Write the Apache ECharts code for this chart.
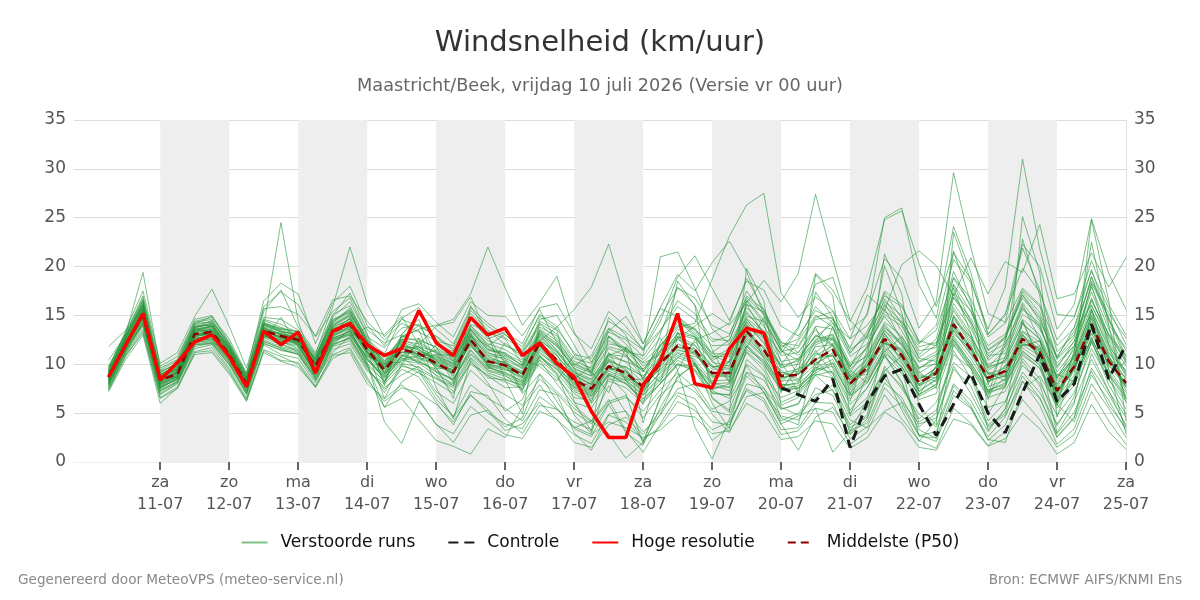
<!DOCTYPE html>
<html lang="nl">
<head>
<meta charset="UTF-8">
<script src="https://cdn.jsdelivr.net/npm/echarts@6/dist/echarts.min.js"></script>
<title>Windsnelheid</title>
<style>html,body{margin:0;padding:0;background:#fff;}</style>
</head>
<body>
<div id="main" style="width:1200px;height:600px"></div>
<script type="text/javascript">
// uren sinds 10-07 00:00, stap 6 uur
var startHour = 6;
var stepHours = 6;

// tick labels
var dayNames = ['za', 'zo', 'ma', 'di', 'wo', 'do', 'vr', 'za', 'zo', 'ma', 'di', 'wo', 'do', 'vr', 'za'];
var dayDates = ['11-07', '12-07', '13-07', '14-07', '15-07', '16-07', '17-07', '18-07', '19-07', '20-07', '21-07', '22-07', '23-07', '24-07', '25-07'];
var dayTicks = [24, 48, 72, 96, 120, 144, 168, 192, 216, 240, 264, 288, 312, 336, 360];
var shadedDays = [[24, 48], [72, 96], [120, 144], [168, 192], [216, 240], [264, 288], [312, 336]];

// Middelste (P50)
var median = [8.7, 12, 15, 8.4, 9.0, 13.1, 13.3, 11, 8.0, 13.4, 12.9, 12.5,
    9.8, 13.3, 14.1, 11.5, 9.4, 11.5, 11.1, 10.1, 9.2, 12.5, 10.3, 9.9,
    8.9, 12.2, 10.4, 8.4, 7.5, 9.8, 9.1, 7.7, 10.1, 11.9, 11.5, 9.1,
    9.1, 13.4, 11.5, 8.8, 8.9, 10.5, 11.5, 8.0, 9.7, 12.6, 10.9, 8.1,
    9.1, 14.1, 11.5, 8.6, 9.3, 12.6, 11.2, 7.3, 9.8, 14.1, 10.3, 8.1];

// Hoge resolutie (tot 20-07 00 uur)
var hires = [8.7, 12.0, 15.2, 8.4, 10.2, 12.3, 13.0, 10.8, 7.7, 13.4, 12.0, 13.3,
    9.1, 13.4, 14.2, 12.0, 10.9, 11.6, 15.5, 12.2, 10.9, 14.8, 13.0, 13.7,
    10.9, 12.2, 10.1, 8.7, 5.2, 2.5, 2.5, 7.9, 10.3, 15.2, 8.0, 7.6,
    11.6, 13.7, 13.2, 7.6];

// Controle (vanaf 20-07 00 uur)
var controlStart = 39;
var control = [7.6, 6.9, 6.2, 8.5, 1.5, 6.1, 8.8, 9.5, 5.9, 2.7, 5.9, 9.1,
    5.0, 3.0, 7.1, 11.0, 6.2, 8.0, 14.1, 8.5, 12.0];

// Verstoorde runs
var runs = [
    [9.2,12.8,16.5,9.0,9.8,13.8,14.2,11.6,8.4,14.5,13.8,13.0, 10.5,14.2,15.8,12.4,8.1,12.9,13.5,9.2,7.8,14.0,11.9,10.6, 7.2,13.5,12.1,9.6,6.1,11.2,8.4,5.9,12.3,14.6,12.8,8.0, 10.4,16.2,13.0,7.1,10.2,13.8,9.6,6.2,11.5,15.7,12.4,9.3, 7.5,17.8,13.2,6.4,10.8,16.1,12.5,5.8,11.4,18.2,12.0,6.5],
    [8.1,11.2,14.3,7.6,8.5,12.4,12.6,10.4,7.5,12.6,14.8,11.8, 9.1,12.5,13.0,10.8,10.1,10.2,12.4,11.8,8.6,11.1,9.5,12.2, 10.6,9.8,8.3,10.9,9.2,7.1,11.8,9.4,8.2,13.3,9.9,7.4, 8.0,11.7,14.8,10.3,7.1,9.2,13.9,9.4,8.1,11.3,12.8,10.2, 11.0,12.5,9.8,7.2,7.6,14.5,10.1,9.0,8.2,12.8,8.8,10.3],
    [9.8,13.1,19.4,9.6,10.5,14.6,15.0,12.3,8.9,15.4,17.6,13.8, 11.2,15.0,17.3,13.5,12.2,13.0,15.2,13.6,12.1,15.8,14.2,13.0, 11.8,14.9,13.6,11.2,9.4,13.3,12.5,10.8,13.4,16.5,15.2,12.6, 12.4,17.0,15.6,12.2,11.9,14.8,15.4,11.5,12.8,17.3,14.7,11.0, 12.6,19.5,15.8,11.9,13.1,17.6,15.9,10.7,13.8,19.7,14.5,11.4],
    [7.8,11.5,14.0,7.2,8.2,12.0,12.1,10.0,7.0,12.2,11.4,11.1, 8.5,11.8,12.4,9.5,7.6,8.9,9.8,7.2,6.0,9.4,7.8,6.9, 5.8,8.5,7.0,5.1,3.9,6.2,6.8,4.5,6.9,8.3,7.2,5.2, 4.8,9.1,7.6,4.2,5.0,6.9,7.4,3.8,5.5,8.6,6.2,3.9, 4.5,9.8,7.0,3.6,4.8,8.2,6.5,2.9,5.1,9.3,5.8,3.5],
    [10.4,13.0,16.0,8.9,9.4,13.5,13.9,10.8,8.3,13.0,12.2,12.9, 10.2,13.8,14.6,11.0,8.8,12.1,10.5,10.9,10.0,12.0,9.7,9.1, 8.3,11.5,9.8,7.6,8.1,10.5,8.4,8.5,9.4,11.2,10.8,9.8, 9.6,12.5,10.8,9.4,8.2,11.1,10.8,8.6,9.0,13.2,10.2,7.5, 9.8,13.4,11.0,9.2,8.7,13.1,10.6,7.9,10.4,13.6,9.8,8.7],
    [8.4,12.3,15.5,8.0,9.1,12.9,13.1,11.2,7.8,13.9,24.5,14.4, 9.3,13.9,15.1,12.6,9.0,10.8,11.9,10.4,8.8,12.9,11.1,10.8, 9.5,12.8,11.0,7.7,7.0,10.4,9.6,6.9,10.9,12.5,11.9,9.9, 8.3,13.9,12.3,8.2,9.6,10.1,11.0,7.4,10.3,12.1,11.6,8.8, 8.6,14.8,12.0,8.1,9.9,12.0,11.8,6.8,10.3,15.0,10.9,7.6],
    [9.0,12.5,15.8,8.7,8.6,13.7,14.5,11.9,8.6,14.1,13.5,12.1, 9.9,13.0,13.8,10.9,9.9,11.9,11.6,9.6,9.5,13.2,9.8,9.4, 9.1,12.0,10.9,8.8,7.9,9.4,9.8,8.1,10.5,11.5,11.0,9.5, 9.5,12.9,11.1,9.2,8.5,10.9,11.9,8.4,9.3,12.2,11.4,8.5, 9.6,13.6,11.9,8.2,9.8,12.1,11.6,7.6,9.4,13.5,10.8,8.5],
    [8.9,12.1,15.1,8.1,9.3,13.3,13.6,11.4,8.2,13.8,12.6,12.8, 10.3,14.8,16.4,13.0,7.8,13.1,14.6,9.7,6.5,16.0,13.0,8.4, 4.9,14.4,13.5,6.2,3.1,12.9,11.6,4.0,9.8,18.5,16.0,6.5, 5.1,19.8,16.5,5.8,6.6,19.2,17.0,4.8,8.9,21.3,17.2,5.6, 3.8,23.5,18.6,4.9,7.8,25.1,19.4,4.6,9.9,24.8,16.5,4.2],
    [8.3,11.8,14.7,8.6,9.5,12.6,12.9,11.3,8.1,13.1,12.5,12.2, 9.6,12.8,13.9,11.8,10.6,12.4,10.8,11.0,10.9,13.6,11.4,11.2, 9.8,13.1,11.9,9.5,8.8,10.2,8.8,7.3,9.1,10.6,12.3,10.4, 8.6,14.1,10.6,8.0,7.6,9.8,12.2,8.9,10.6,13.4,12.1,9.0, 8.2,15.0,12.6,9.1,8.3,11.9,12.4,8.0,10.9,15.3,11.1,9.4],
    [7.5,11.0,13.6,6.9,8.0,11.6,12.0,9.6,6.6,12.0,11.0,10.6, 8.1,11.9,12.8,9.8,7.1,10.0,9.1,8.1,7.0,10.2,8.8,7.6, 7.7,10.5,8.9,6.1,5.5,8.3,7.6,6.0,8.1,10.1,9.4,7.0, 6.9,11.3,9.8,6.1,6.9,8.9,9.3,5.9,7.6,10.8,9.0,6.4, 7.0,12.0,9.5,6.6,7.2,10.9,9.6,5.5,7.9,12.4,8.4,6.2],
    [9.5,12.9,16.8,9.3,10.0,14.1,14.9,12.1,9.0,14.8,14.6,13.5, 11.0,15.9,22.0,16.2,12.8,14.6,13.9,12.9,11.6,15.2,13.5,12.0, 10.9,14.1,12.6,10.0,9.2,12.8,11.4,9.5,11.8,14.3,13.7,11.1, 11.0,15.8,13.9,10.9,11.2,13.9,13.6,10.1,11.6,16.2,13.4,10.3, 11.3,18.1,14.4,10.4,11.8,16.3,13.8,9.6,12.4,17.9,13.6,10.1],
    [8.0,11.6,14.9,7.9,8.8,12.8,13.4,10.9,7.6,13.5,13.1,11.9, 9.2,12.2,13.5,10.5,8.4,10.9,10.2,9.5,8.3,11.8,10.1,10.3, 8.6,11.9,9.7,8.0,6.8,9.6,8.7,7.8,9.5,11.4,11.2,8.6, 9.3,13.1,11.8,8.5,9.1,10.6,10.9,7.9,9.8,12.5,10.6,7.8, 9.4,13.8,11.2,8.9,9.0,12.3,11.0,7.1,9.6,13.9,10.2,7.9],
    [9.1,12.6,16.2,8.8,9.7,13.9,14.0,11.8,8.6,14.2,13.7,13.3, 8.4,11.2,12.9,13.8,13.0,14.9,12.0,13.9,14.3,16.9,12.9,10.1, 7.0,9.0,6.2,3.5,4.2,7.8,5.1,2.1,6.5,9.4,12.5,13.2, 14.2,18.8,15.6,11.6,8.9,11.4,9.0,5.3,7.6,10.9,8.1,3.6, 5.0,11.0,9.6,6.8,12.6,17.1,14.4,10.8,13.4,16.1,12.1,8.8],
    [8.5,12.2,15.3,8.2,9.2,13.2,13.0,11.1,7.9,13.6,12.7,12.0, 9.0,12.4,13.2,10.2,4.1,1.9,6.2,3.9,2.0,4.8,5.3,3.2, 3.9,6.1,4.3,2.8,1.9,4.9,5.2,3.1,4.8,7.5,8.0,5.4, 6.2,9.2,8.4,5.4,6.0,8.9,7.3,3.5,4.6,9.8,7.5,4.9, 3.6,8.0,6.3,3.1,5.5,9.2,7.1,3.9,6.2,10.5,7.2,4.6],
    [8.6,12.0,15.4,8.3,8.9,13.4,13.7,11.5,8.1,13.7,13.0,12.7, 10.0,13.5,14.4,11.9,9.8,12.2,11.4,10.7,9.9,13.0,10.9,10.6, 9.7,13.0,11.4,9.1,8.4,11.0,10.8,9.2,12.0,13.8,14.2,18.7, 23.1,26.3,27.5,17.3,14.8,16.9,15.5,12.6,14.0,16.4,15.0,12.1, 13.5,18.9,16.7,12.8,14.2,17.8,16.1,11.9,13.7,18.5,15.2,12.7],
    [7.9,11.4,14.5,7.7,8.4,12.2,12.5,10.2,7.2,12.5,11.8,11.4, 8.8,12.0,13.6,11.1,9.3,11.6,11.8,10.1,9.0,12.3,10.4,9.8, 8.8,12.5,10.1,8.6,7.7,10.6,9.4,7.3,10.2,12.8,11.6,9.7, 9.9,14.4,12.8,9.1,9.5,11.8,12.0,8.4,10.1,13.5,11.3,8.2, 9.3,14.9,12.3,9.0,9.6,13.3,11.9,7.7,10.2,14.6,10.8,8.0],
    [9.4,13.2,17.0,9.8,10.8,14.4,14.8,12.6,9.1,16.5,18.3,17.2, 12.1,16.3,18.0,14.0,11.9,15.6,16.2,14.3,12.8,16.4,15.0,14.9, 12.9,15.6,12.2,9.9,10.9,14.4,13.3,11.6,14.9,17.8,16.8,14.0, 13.1,16.8,15.2,11.8,12.6,15.9,14.2,10.8,12.1,16.7,14.1,10.7, 12.0,18.8,16.1,10.6,12.9,17.1,14.9,9.8,11.9,18.3,14.8,10.8],
    [8.2,11.9,14.6,7.8,8.9,12.7,12.8,10.9,7.3,12.8,12.3,11.6, 9.4,13.1,14.8,11.4,6.5,9.9,12.7,7.6,4.4,10.4,8.1,5.2, 6.4,10.8,9.0,4.8,2.9,8.8,7.0,1.9,6.7,12.8,10.2,6.0, 3.4,10.5,8.9,4.5,3.8,10.4,8.7,2.9,4.9,12.2,9.6,2.6, 2.5,12.1,9.7,3.3,5.4,14.4,10.6,3.0,6.0,15.7,9.5,2.9],
    [9.7,13.3,16.0,8.5,9.1,13.6,13.9,11.2,8.0,13.3,12.4,12.4, 10.7,14.6,15.3,12.1,10.4,11.3,10.1,12.0,11.3,13.9,12.4,11.9, 11.2,13.8,12.9,10.3,9.6,12.1,11.7,10.1,11.0,13.1,12.6,10.8, 10.8,15.2,13.4,10.3,10.6,12.9,12.5,9.5,11.0,14.3,12.9,9.6, 10.6,16.2,13.7,10.0,10.7,14.6,13.0,8.8,11.1,16.0,12.7,9.8],
    [8.8,12.4,15.0,8.5,9.4,13.0,13.2,11.0,8.0,13.2,12.9,12.6, 9.7,13.6,13.9,11.3,9.1,11.2,11.3,10.6,9.8,12.7,10.6,10.2, 9.3,12.4,13.8,15.6,17.9,22.3,16.4,12.1,15.7,14.9,13.2,10.6, 11.6,14.3,12.1,9.9,12.4,15.0,13.8,9.1,11.9,14.9,12.6,9.5, 10.9,17.2,14.1,9.7,11.5,15.6,14.2,8.5,11.8,16.8,12.4,9.1],
    [8.0,11.7,14.2,7.5,8.6,12.3,12.4,10.5,7.7,12.9,12.1,11.3, 8.9,12.7,13.4,10.6,8.6,10.5,10.9,8.8,7.2,10.6,8.6,8.4, 7.9,10.9,9.1,7.0,6.0,8.5,8.1,6.5,8.0,9.9,9.8,7.9, 7.3,11.2,9.4,5.6,4.8,6.6,7.9,4.3,3.5,5.2,6.1,2.8, 2.1,6.8,5.5,2.3,2.0,7.4,8.8,5.9,4.1,8.9,6.3,3.2],
    [9.3,12.7,16.3,9.1,10.2,14.3,14.6,12.0,8.7,15.9,17.4,16.1, 12.8,15.4,16.8,13.1,9.5,12.6,14.0,11.3,8.1,12.8,11.9,13.1, 11.3,14.2,13.1,10.6,10.1,12.9,11.0,8.6,11.3,14.9,13.5,10.9, 10.2,14.9,14.4,11.4,10.4,12.5,13.1,9.8,11.8,15.1,13.9,10.6, 10.3,16.8,14.3,10.9,11.1,15.1,14.0,9.2,11.5,16.5,13.1,10.9],
    [7.6,11.1,13.9,7.0,8.1,11.8,12.2,9.9,6.9,12.4,11.6,11.0, 8.3,11.5,12.1,9.3,8.0,9.8,9.4,8.5,7.6,10.0,8.9,8.2, 7.5,10.1,8.6,6.6,6.3,8.9,8.0,6.4,8.4,10.4,9.5,7.6, 7.7,11.9,10.0,7.3,7.5,9.4,9.8,6.8,8.1,11.6,9.7,6.9, 7.9,12.7,10.1,7.4,7.9,11.4,9.9,6.0,8.5,12.7,9.0,6.6],
    [8.7,12.2,15.6,8.6,9.6,13.6,13.3,11.3,8.4,13.4,12.8,12.3, 10.1,13.7,14.0,11.6,9.6,11.8,11.0,10.3,9.4,12.4,10.2,9.9, 9.0,12.3,10.6,8.3,7.4,9.9,9.3,7.9,10.0,12.1,11.4,9.0, 9.2,13.6,11.6,8.9,9.3,11.2,12.6,9.7,13.0,17.5,16.1,12.2, 14.0,20.7,18.4,13.6,17.9,31.0,21.8,15.1,14.9,19.5,15.7,12.0],
    [7.3,10.8,13.4,6.6,7.7,11.3,11.7,9.4,6.3,11.4,10.4,10.2, 7.8,11.0,11.7,8.7,5.6,8.2,9.3,6.4,4.7,7.9,6.5,5.5, 4.2,7.4,6.9,3.0,1.2,4.8,4.1,2.3,3.6,6.2,5.3,3.3, 4.1,7.3,6.2,2.8,3.2,5.5,5.1,1.8,3.1,6.9,4.4,2.2, 1.4,5.5,4.0,1.7,3.1,6.4,4.3,1.5,2.8,7.2,4.2,1.8],
    [9.0,12.6,15.7,8.9,9.9,13.8,14.1,11.7,8.5,14.0,13.3,13.1, 10.8,14.4,15.5,12.8,11.7,13.7,14.1,12.8,11.4,14.6,12.6,13.3, 12.1,15.8,16.2,13.1,11.6,15.4,13.9,11.4,14.4,18.9,21.1,17.8, 14.5,18.5,17.6,13.9,12.9,15.5,14.6,11.1,13.4,17.0,15.9,12.4, 11.9,18.2,15.4,11.4,12.6,17.4,15.3,10.6,12.8,18.9,14.0,11.7],
    [8.4,12.0,15.2,8.3,9.0,13.0,13.5,11.2,8.0,13.5,12.6,12.4, 9.5,13.2,14.2,11.2,9.2,11.4,10.7,10.0,9.1,12.2,10.0,9.7, 8.7,11.8,10.2,8.1,7.2,9.7,9.0,7.5,9.9,11.7,11.3,8.8, 8.9,13.1,11.3,8.6,9.0,12.4,14.6,11.7,15.3,20.8,18.8,13.7, 16.4,29.6,22.0,15.2,14.3,21.9,17.6,11.3,13.0,19.0,14.6,10.4],
    [8.1,11.5,14.4,7.7,8.7,12.5,12.7,10.7,7.6,13.0,12.2,12.0, 9.0,12.6,13.1,10.4,8.9,10.7,9.5,6.9,4.6,6.8,5.4,3.6, 4.5,9.0,7.2,5.5,4.1,6.4,3.2,1.0,3.9,6.8,5.7,2.2, 3.6,8.0,7.5,5.4,5.9,9.7,9.1,5.0,6.6,11.0,8.2,4.1, 5.3,11.4,8.6,4.2,6.1,10.6,8.5,3.7,6.7,12.4,7.9,4.9],
    [9.2,12.9,16.0,8.8,9.5,13.6,13.9,11.5,8.4,14.0,13.4,12.9, 10.4,14.0,15.0,12.2,10.0,12.6,11.8,11.3,10.4,13.5,11.6,11.0, 9.9,13.3,11.8,9.8,9.1,11.8,11.3,10.9,21.0,21.5,17.8,13.6, 12.1,15.4,13.2,9.7,10.0,12.2,12.8,9.9,10.8,14.1,12.0,9.7, 10.0,15.8,13.1,9.4,10.4,14.1,12.6,8.6,10.7,15.5,11.9,9.2],
    [7.7,11.3,14.1,7.4,8.3,12.1,12.3,10.3,7.1,12.3,11.7,11.2, 8.6,12.1,12.6,9.7,7.4,9.5,8.7,6.1,3.8,7.2,6.8,4.4, 2.9,5.8,5.4,4.1,3.3,6.0,6.6,5.2,7.4,9.1,7.6,4.9, 3.0,6.7,7.1,4.7,4.3,7.6,6.8,3.2,4.0,8.1,6.6,3.3, 2.4,7.3,5.6,2.6,4.6,8.8,6.6,2.5,4.5,9.6,6.9,3.8],
    [8.6,12.1,15.4,8.5,9.2,13.1,13.4,11.1,8.1,13.4,13.2,12.5, 9.9,13.4,14.7,12.0,10.2,12.8,13.6,14.0,14.6,17.2,22.0,17.8, 14.0,16.3,19.0,13.3,10.2,13.6,12.1,9.8,11.4,14.7,13.0,10.2, 9.8,14.0,12.6,9.6,10.5,13.0,11.9,8.7,9.4,13.1,11.2,8.3, 9.7,14.5,12.8,9.8,10.2,13.4,12.3,8.3,10.6,14.9,11.3,8.4],
    [8.2,11.8,14.8,8.0,8.9,12.9,13.0,10.8,7.8,13.2,12.5,12.2, 9.4,12.9,13.6,10.0,5.6,6.5,4.3,2.2,1.6,0.8,3.4,2.5, 5.6,7.9,5.5,3.4,2.6,5.9,3.0,1.7,5.6,8.6,10.1,7.3, 6.5,10.0,8.8,6.6,7.3,9.0,8.6,4.7,6.1,9.5,7.8,4.4, 6.1,10.2,8.7,5.6,6.2,9.9,8.1,4.8,7.1,11.6,8.5,5.4],
    [8.9,12.5,15.9,8.7,9.7,13.5,13.8,11.6,8.3,13.9,13.3,12.7, 10.2,13.9,14.9,11.8,9.7,11.7,10.8,11.5,10.6,13.1,9.8,8.9, 7.4,10.4,8.0,5.8,4.2,2.9,0.4,2.0,4.9,8.8,9.9,7.1, 6.8,11.5,10.4,7.8,8.1,12.0,12.7,8.2,9.9,13.7,12.3,8.6, 8.9,14.3,11.8,8.3,8.8,12.9,11.4,7.4,9.2,14.7,10.6,7.7],
    [9.1,12.3,15.7,8.4,9.3,13.4,13.5,11.4,8.2,13.7,13.1,12.6, 9.9,13.2,14.3,11.7,9.5,12.0,11.2,10.5,9.7,12.9,10.8,10.1, 9.2,12.6,10.9,8.9,8.0,10.3,9.7,8.8,10.8,13.2,12.8,11.2, 12.5,16.6,14.5,11.5,13.8,18.2,18.9,13.5,15.0,25.0,26.0,18.1, 14.7,24.1,19.4,13.1,15.0,22.3,20.0,13.6,16.1,24.9,19.3,15.6],
    [8.5,12.0,15.1,8.1,8.8,12.8,13.2,11.0,7.9,13.1,12.7,12.2, 9.6,13.0,13.7,11.4,9.2,11.2,11.1,9.8,9.1,12.1,10.0,9.6, 8.4,11.6,10.1,8.2,7.3,9.6,9.2,7.6,9.7,11.8,11.1,8.8, 8.7,12.7,11.0,8.3,8.4,10.0,11.2,7.7,9.5,12.3,10.5,7.8, 8.7,13.5,11.0,8.3,8.9,12.0,10.8,7.0,9.5,13.7,9.9,7.7],
    [9.6,13.4,16.6,9.2,10.1,14.0,14.4,11.9,8.8,14.3,13.6,13.4, 10.9,14.5,15.6,12.3,10.8,12.5,12.6,11.7,10.7,13.7,12.1,11.5, 10.4,13.6,12.4,10.1,9.3,12.4,11.5,10.2,11.9,14.0,13.6,11.9, 12.0,14.7,13.3,11.1,13.6,19.3,17.6,14.4,17.9,24.8,25.7,20.3, 15.9,21.4,18.7,13.0,15.2,19.8,17.4,12.5,14.8,20.6,16.1,13.0],
    [7.9,11.4,14.2,7.3,8.2,12.0,12.2,10.1,7.0,12.1,11.5,11.0, 8.7,12.0,12.7,9.9,8.3,10.1,9.7,8.6,7.8,10.7,9.1,8.5, 7.8,10.7,9.5,7.2,6.5,8.9,8.3,6.8,8.6,10.7,10.0,8.1, 7.6,11.8,10.1,7.4,7.8,9.1,10.1,6.5,8.4,11.1,9.8,6.7, 7.7,12.3,9.9,7.0,7.8,11.1,9.6,5.8,8.3,12.2,8.9,6.4],
    [8.8,12.3,15.3,8.6,9.3,13.2,13.6,11.4,8.2,13.6,13.0,12.6, 10.0,13.4,14.4,11.5,9.7,11.9,11.5,10.4,9.6,12.6,10.5,10.0, 9.1,12.4,11.3,9.0,7.9,10.9,11.6,10.5,12.7,9.4,3.6,0.3, 4.4,8.8,7.2,3.9,1.2,4.6,5.6,2.8,4.4,9.3,10.9,7.3, 8.5,13.1,11.6,7.1,8.6,12.7,11.2,6.5,9.8,13.1,10.7,7.3],
    [8.3,11.9,14.9,7.8,8.6,12.6,13.0,10.6,7.6,12.9,12.3,11.8, 9.3,12.7,13.3,10.7,8.7,10.9,10.4,9.3,8.5,11.5,9.6,9.2, 8.2,11.1,9.9,7.9,7.1,9.3,8.6,7.2,9.2,11.1,10.5,8.3, 8.4,12.3,10.7,7.9,8.0,9.6,10.5,7.1,8.9,11.8,10.1,7.2, 8.4,12.9,10.6,7.7,8.4,11.7,10.4,6.6,8.9,13.2,9.5,7.1],
    [9.4,13.0,16.4,9.4,10.4,14.2,14.3,12.2,9.0,14.6,14.1,13.2, 10.6,15.1,16.0,12.5,11.1,14.7,15.8,12.5,10.3,14.1,13.3,12.6, 10.0,14.6,15.0,12.0,8.9,14.8,13.0,8.3,13.1,17.9,16.1,11.5, 8.1,16.5,14.2,7.5,9.3,17.4,14.8,6.9,10.8,20.1,15.3,6.8, 9.9,21.6,16.4,7.9,12.0,22.8,17.0,6.2,11.2,22.5,14.0,6.0],
    [7.4,10.9,13.2,6.5,7.5,11.2,11.4,9.2,6.4,11.5,10.8,10.0, 7.6,10.6,11.5,8.4,6.2,7.6,7.1,5.9,4.1,6.9,5.0,3.9, 3.4,6.7,5.4,3.6,2.8,4.1,3.5,2.5,3.3,4.8,4.6,2.9, 3.2,6.0,5.0,2.3,2.6,4.2,3.9,1.4,2.5,5.1,4.0,1.5, 1.2,4.4,3.8,1.6,2.4,5.0,3.4,0.8,2.0,5.9,3.1,1.3],
    [9.3,12.8,15.9,8.9,9.6,13.7,14.2,11.8,8.5,14.1,13.6,13.0, 10.4,14.1,15.2,12.3,10.1,12.4,12.1,11.1,10.1,13.4,11.5,10.9, 9.9,13.2,11.5,9.3,8.5,11.1,10.2,8.6,10.6,12.9,12.0,9.7, 10.2,14.6,12.7,9.9,10.3,12.3,13.0,8.8,10.5,13.9,11.9,9.1, 10.2,15.5,12.8,9.6,10.4,14.2,12.6,8.6,10.8,15.6,11.6,8.9],
    [8.6,12.2,15.0,8.2,9.1,13.0,13.1,10.9,7.9,13.3,12.8,12.3, 9.8,13.1,13.9,11.2,9.0,11.0,10.6,9.9,9.3,12.0,9.9,9.5, 8.6,11.9,10.3,8.5,9.8,13.4,14.9,12.1,15.8,19.2,17.5,20.4, 22.6,19.5,15.1,12.3,11.2,13.5,12.0,8.7,9.9,12.9,11.0,7.9, 9.1,14.0,11.5,8.5,9.4,13.0,11.5,7.3,9.7,14.3,10.4,7.9],
    [8.0,11.6,14.6,7.6,8.5,12.4,12.6,10.5,7.4,12.7,12.0,11.5, 9.1,12.3,13.0,10.1,8.2,10.4,10.1,8.9,8.0,11.0,9.3,8.8, 8.0,10.9,9.4,7.6,6.8,9.1,8.4,6.9,8.8,10.9,10.2,8.0, 8.1,12.0,10.3,7.6,7.5,9.4,10.2,6.8,8.6,11.4,9.3,6.9, 8.0,12.5,10.2,7.3,8.1,11.3,9.9,6.2,8.6,12.6,9.2,6.8],
    [9.0,12.7,15.6,8.8,9.5,13.3,13.9,11.6,8.3,13.8,13.1,12.8, 10.3,13.7,14.6,11.9,9.9,12.3,11.7,10.8,10.1,13.2,11.2,10.4, 9.6,12.9,11.2,9.2,8.2,10.8,10.3,9.5,11.4,12.6,13.9,15.2, 14.0,16.3,18.6,16.4,19.3,27.4,20.7,14.5,12.6,15.4,14.3,11.8, 12.2,16.9,14.7,11.1,12.1,15.8,13.6,10.1,11.9,16.6,12.9,10.3],
    [8.4,11.7,14.8,8.0,8.7,12.7,12.9,10.7,7.7,13.0,12.4,12.1, 9.2,12.6,13.4,10.5,8.6,10.6,10.3,9.2,8.4,11.4,9.4,9.0, 8.1,11.3,9.6,7.4,6.7,9.0,8.0,6.2,8.0,10.0,9.3,6.6, 5.3,9.9,7.1,3.9,4.7,5.5,1.0,3.1,6.4,9.2,5.3,2.1, 4.3,9.5,7.8,3.8,5.0,10.3,7.8,2.6,4.6,11.1,7.3,3.6],
    [11.8,13.5,17.5,10.1,11.2,14.9,17.7,13.9,9.6,15.7,15.9,15.1, 12.9,16.6,17.0,14.4,12.5,14.2,13.3,12.4,11.9,15.5,13.9,12.7, 11.5,15.1,13.9,11.0,10.6,13.7,12.7,11.5,13.5,15.9,14.6,12.3, 12.9,17.5,15.0,11.3,11.7,14.6,14.8,11.2,13.1,16.0,14.4,11.4, 11.7,17.3,15.5,11.5,12.8,16.8,14.7,10.5,12.3,17.4,13.0,10.6],
    [7.2,10.5,13.0,6.0,7.6,11.0,11.2,9.0,6.2,11.2,10.3,9.7, 7.7,10.9,11.2,8.0,6.5,7.9,6.4,3.8,2.9,5.7,4.2,2.8, 2.4,5.2,4.4,2.0,1.5,3.8,4.6,2.8,5.3,7.1,6.5,4.1, 3.8,7.5,6.5,3.3,3.5,6.1,6.0,2.4,3.6,7.6,5.7,2.7, 3.1,7.8,5.8,2.2,3.8,8.3,5.8,1.8,3.4,8.0,5.5,2.5],
    [8.6,12.4,15.3,8.4,9.1,13.0,13.4,11.1,8.0,13.5,12.8,12.4, 9.7,13.4,14.0,11.4,9.5,11.6,11.0,10.2,9.3,12.4,10.4,9.8, 9.0,12.1,10.5,8.3,7.6,9.7,9.2,7.6,10.2,11.8,11.6,9.0, 9.2,13.3,11.6,8.7,9.0,10.4,11.6,7.9,9.8,12.5,11.0,8.0, 9.2,14.0,11.6,8.5,9.4,12.5,11.3,7.2,9.9,14.0,10.4,8.0],
    [9.2,12.8,16.1,9.0,9.8,13.9,14.0,11.7,8.6,14.2,13.4,13.0, 10.5,14.3,15.4,12.2,10.3,12.9,12.3,11.2,10.3,13.6,11.8,11.1, 10.2,13.4,12.0,9.6,8.8,11.6,10.9,9.3,11.2,13.6,12.8,10.4, 11.3,16.1,15.4,12.0,10.9,12.8,14.2,12.6,17.1,15.5,20.2,21.6, 20.1,17.0,20.9,17.2,20.5,19.4,24.3,16.7,17.2,21.4,17.9,20.9]
];

function toPoints(values, offset) {
    return values.map(function (v, i) {
        return [startHour + (i + offset) * stepHours, v];
    });
}

var green = 'rgba(40,150,60,0.6)';
var series = [];
runs.forEach(function (r, k) {
    series.push({
        name: 'Verstoorde runs',
        type: 'line',
        symbol: 'none',
        silent: true,
        data: toPoints(r, 0),
        lineStyle: {color: green, width: 1},
        itemStyle: {color: green},
        z: 2,
        markArea: k === 0 ? {
            silent: true,
            itemStyle: {color: '#eeeeee'},
            data: shadedDays.map(function (d) {
                return [{xAxis: d[0]}, {xAxis: d[1]}];
            })
        } : undefined
    });
});
series.push({
    name: 'Middelste (P50)',
    type: 'line',
    symbol: 'none',
    data: toPoints(median, 0),
    lineStyle: {color: '#8b0000', width: 2.5, type: [8, 5]},
    itemStyle: {color: '#8b0000'},
    z: 5
});
series.push({
    name: 'Controle',
    type: 'line',
    symbol: 'none',
    data: toPoints(control, controlStart),
    lineStyle: {color: '#1a1a1a', width: 3, type: [10, 6]},
    itemStyle: {color: '#1a1a1a'},
    z: 6
});
series.push({
    name: 'Hoge resolutie',
    type: 'line',
    symbol: 'none',
    data: toPoints(hires, 0),
    lineStyle: {color: '#ff0000', width: 3.5},
    itemStyle: {color: '#ff0000'},
    z: 7
});

var myChart = echarts.init(document.getElementById('main'));
var fontFam = 'DejaVu Sans';

myChart.setOption({
    animation: false,
    textStyle: {fontFamily: fontFam},
    title: [{
        text: 'Windsnelheid (km/uur)',
        subtext: 'Maastricht/Beek, vrijdag 10 juli 2026 (Versie vr 00 uur)',
        left: 'center',
        top: 24,
        itemGap: 19,
        textStyle: {fontSize: 29, fontWeight: 'normal', color: '#333', fontFamily: fontFam},
        subtextStyle: {fontSize: 17.7, color: '#666', fontFamily: fontFam}
    }, {
        text: 'Gegenereerd door MeteoVPS (meteo-service.nl)',
        left: 18,
        top: 573,
        padding: 0,
        textStyle: {fontSize: 13.6, fontWeight: 'normal', color: '#888', fontFamily: fontFam}
    }, {
        text: 'Bron: ECMWF AIFS/KNMI Ens',
        right: 18,
        top: 573,
        padding: 0,
        textStyle: {fontSize: 13.6, fontWeight: 'normal', color: '#888', fontFamily: fontFam}
    }],
    legend: {
        data: ['Verstoorde runs', 'Controle', 'Hoge resolutie', 'Middelste (P50)'],
        top: 529,
        left: 'center',
        itemWidth: 26,
        itemHeight: 14,
        itemGap: 32,
        itemStyle: {opacity: 0},
        textStyle: {fontSize: 17, color: '#111', fontFamily: fontFam, padding: [0, 0, 0, 8]}
    },
    grid: {left: 74, right: 74, top: 120, bottom: 138},
    xAxis: {
        type: 'value',
        min: -6,
        max: 360,
        splitLine: {show: false},
        axisLine: {show: true, lineStyle: {color: '#eeeeee'}},
        axisTick: {
            show: true,
            customValues: dayTicks,
            length: 8,
            lineStyle: {color: '#666', width: 2}
        },
        axisLabel: {
            customValues: dayTicks,
            margin: 10,
            fontSize: 16,
            lineHeight: 22,
            color: '#555',
            fontFamily: fontFam,
            formatter: function (v) {
                var k = dayTicks.indexOf(v);
                return k < 0 ? '' : dayNames[k] + '\n' + dayDates[k];
            }
        }
    },
    yAxis: [{
        type: 'value',
        min: 0,
        max: 35,
        interval: 5,
        position: 'left',
        axisLine: {show: false},
        axisTick: {show: false},
        splitLine: {lineStyle: {color: '#dddddd'}},
        axisLabel: {fontSize: 17, color: '#555', margin: 8, fontFamily: fontFam}
    }, {
        type: 'value',
        min: 0,
        max: 35,
        interval: 5,
        position: 'right',
        axisLine: {show: true, lineStyle: {color: '#e0e0e0'}},
        axisTick: {show: false},
        splitLine: {show: false},
        axisLabel: {fontSize: 17, color: '#555', margin: 8, fontFamily: fontFam}
    }],
    series: series
});
</script>
</body>
</html>
